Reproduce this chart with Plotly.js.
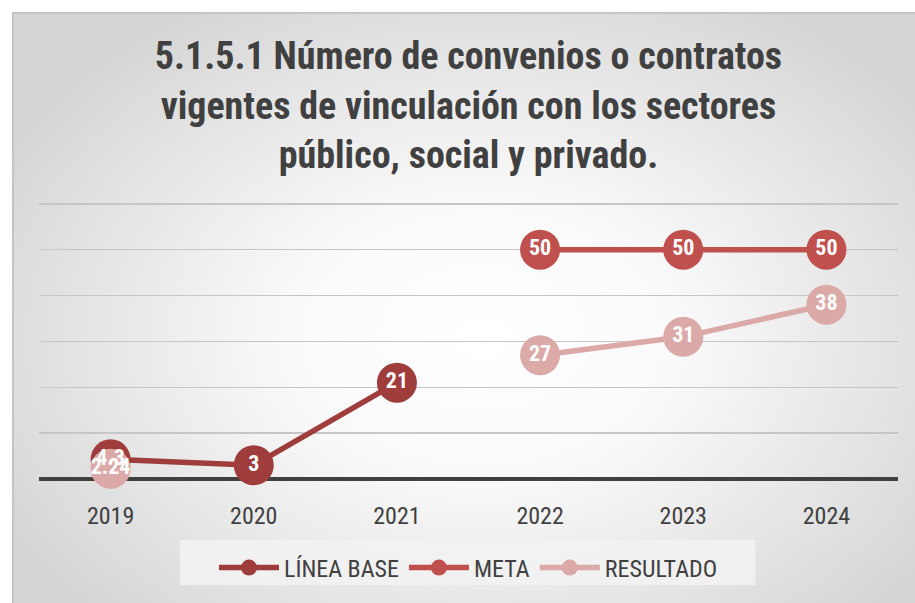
<!DOCTYPE html>
<html>
<head>
<meta charset="utf-8">
<script src="https://cdn.plot.ly/plotly-3.0.1.min.js"></script>
<style>
  html, body { margin:0; padding:0; background:#ffffff; }
  #bg { position:absolute; left:12px; top:12px; width:903px; height:591px;
        border-top:2px solid #c4c4c4; border-left:2px solid #c4c4c4; box-sizing:border-box;
        background: radial-gradient(ellipse 60% 65% at 52% 55%, #ffffff 0%, #fafafa 35%, #e4e4e4 75%, #d6d6d6 100%); }
  #chart { position:absolute; left:0; top:0; width:915px; height:603px; }
</style>
</head>
<body>
<div id="bg"></div>
<div id="chart"></div>
<script>
const years = ['2019','2020','2021','2022','2023','2024'];
const lineaBase = [4.3, 3, 21, null, null, null];
const meta = [null, null, null, 50, 50, 50];
const resultado = [2.24, null, null, 27, 31, 38];
const seriesNames = ['LÍNEA BASE', 'META', 'RESULTADO'];
const colors = ['#9e3d3c', '#c0504d', '#dba9a8'];
const titleText = '5.1.5.1 Número de convenios o contratos<br>vigentes de vinculación con los sectores<br>público, social y privado.';

const FONT = 'Liberation Sans Narrow, Arial Narrow, Roboto Condensed, Noto Sans, sans-serif';
const allSeries = [lineaBase, meta, resultado];

const lineTraces = allSeries.map((vals, i) => ({
  type: 'scatter', mode: 'lines+markers', x: years, y: vals, name: seriesNames[i],
  line: {color: colors[i], width: 5.5}, marker: {color: colors[i], size: 40},
  connectgaps: false, hoverinfo: 'skip', cliponaxis: false
}));
const textTraces = allSeries.map((vals, i) => ({
  type: 'scatter', mode: 'text', x: years, y: vals, showlegend: false,
  text: vals.map(v => v === null ? '' : String(v)), textposition: 'middle center',
  textfont: {family: FONT, size: 22, color: '#ffffff', weight: 'bold'},
  hoverinfo: 'skip', cliponaxis: false
}));

const layout = {
  width: 915, height: 603,
  paper_bgcolor: 'rgba(0,0,0,0)', plot_bgcolor: 'rgba(0,0,0,0)',
  margin: {l: 39, r: 17, t: 202, b: 119},
  font: {family: FONT, color: '#404040'},
  title: {text: titleText, x: 0.512, xanchor: 'center', y: 0.885, yanchor: 'top', yref: 'container',
          font: {family: FONT, size: 38, color: '#404040', weight: 'bold'}},
  xaxis: {type: 'category', range: [-0.5, 5.5], showgrid: false, zeroline: false, showline: false,
          ticks: '', ticklabelstandoff: 20, tickfont: {family: FONT, size: 24, color: '#404040'}, fixedrange: true},
  yaxis: {range: [0, 60.4], tickvals: [10, 20, 30, 40, 50, 60], showticklabels: false, showgrid: true,
          gridcolor: '#c6c6c6', gridwidth: 1.5,
          zeroline: true, zerolinecolor: '#404040', zerolinewidth: 3.5, showline: false, ticks: '', fixedrange: true},
  showlegend: true,
  legend: {orientation: 'h', x: 0.5, xanchor: 'center', y: -0.24, yanchor: 'top', itemwidth: 60,
           bgcolor: 'rgba(0,0,0,0)', font: {family: FONT, size: 24, color: '#404040'}},
  shapes: [{type: 'rect', xref: 'paper', yref: 'paper', x0: 0.164, x1: 0.834, y0: -0.383, y1: -0.22,
            fillcolor: 'rgba(242,242,242,0.9)', line: {width: 0}, layer: 'below'}]
};

Plotly.newPlot('chart', lineTraces.concat(textTraces), layout, {displayModeBar: false, staticPlot: true});
</script>
</body>
</html>
